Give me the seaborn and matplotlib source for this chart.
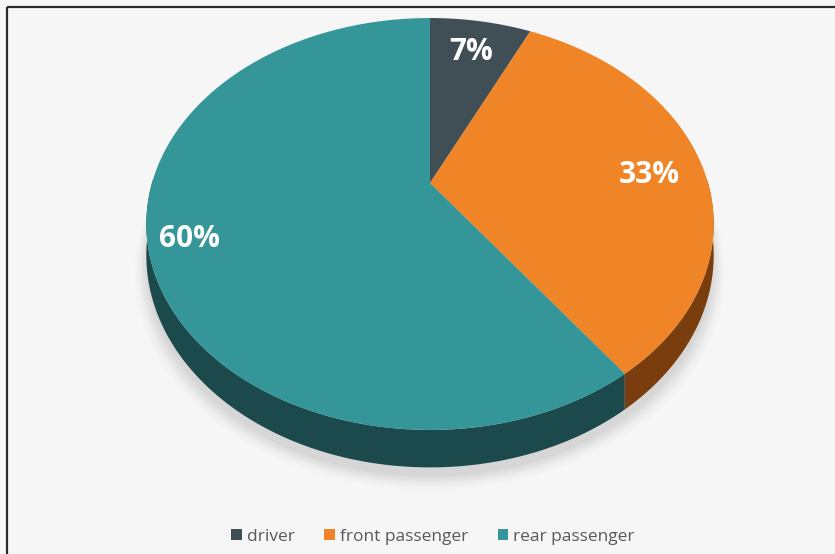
import numpy as np
import matplotlib
matplotlib.use("Agg")
import matplotlib.pyplot as plt
from matplotlib.patches import Patch
import seaborn as sns

categories = ["driver", "front passenger", "rear passenger"]
shares = [7, 33, 60]
labels = ["7%", "33%", "60%"]
top_colors = ["#3f4f55", "#ef8527", "#359699"]
side_colors = ["#26323a", "#7a3d0e", "#1c4a4c"]

sns.set_theme(style="white")
plt.rcParams["font.family"] = ["Open Sans", "DejaVu Sans"]

W, H = 835, 554
fig = plt.figure(figsize=(W / 100, H / 100), dpi=100)
fig.patch.set_facecolor("#f6f6f6")
ax = fig.add_axes([0, 0, 1, 1])
ax.set_xlim(0, W)
ax.set_ylim(H, 0)
ax.axis("off")
ax.set_facecolor("#f6f6f6")

# projection of the tilted pie (perspective-like)
cx, cy = 430, 183
kx, ky, c = 278, 197.8, 0.199
depth = 30


def proj(theta, drop=0.0, r=1.0, rr=1.0):
    u, v = r * np.cos(theta), rr * r * np.sin(theta)
    s = 1.0 / (1 + c * v)
    return cx + kx * u * s, cy - ky * v * s + drop * s


# soft shadow
for i, a in enumerate(np.linspace(0.05, 0.012, 8)):
    t = np.linspace(0, 2 * np.pi, 300)
    x, y = proj(t, depth + 6 + i * 1.5)
    x = cx + (x - cx) * (1.0 + i * 0.006)
    ax.fill(x, y + 2, color="#7a7a7a", alpha=a, lw=0, zorder=1)

fractions = np.array(shares, dtype=float) / np.sum(shares)
start = np.pi / 2
bounds = []
for f in fractions:
    end = start - f * 2 * np.pi
    bounds.append((start, end))
    start = end

# sides (visible front part)
for (a0, a1), col in zip(bounds, side_colors):
    t = np.linspace(a0, a1, 200)
    mask = np.sin(t) <= 0.02
    if mask.sum() < 2:
        continue
    tt = t[mask]
    xt, yt = proj(tt)
    xb, yb = proj(tt, depth)
    ax.fill(np.r_[xt, xb[::-1]], np.r_[yt, yb[::-1]], color=col, lw=0, zorder=2)

# top faces
for (a0, a1), col in zip(bounds, top_colors):
    t = np.linspace(a0, a1, 200)
    x, y = proj(t)
    ax.fill(np.r_[cx, x], np.r_[cy, y], color=col, lw=0, zorder=3)

# labels
label_pos = [(0.78, 1.0), (0.80, 0.53), (0.86, 1.0)]
for (a0, a1), lab, (r, rr) in zip(bounds, labels, label_pos):
    mid = (a0 + a1) / 2
    lx, ly = proj(mid, 0.0, r, rr)
    ax.text(lx, ly, lab, color="white", fontsize=21.5, fontweight="bold",
            ha="center", va="center", zorder=5)

# frame lines (top and left)
ax.plot([7, W], [7, 7], color="#2b2b2b", lw=1.6, zorder=6, solid_capstyle="butt")
ax.plot([7, 7], [7, H], color="#2b2b2b", lw=1.6, zorder=6, solid_capstyle="butt")

handles = [Patch(facecolor=col, edgecolor="none", label=cat)
           for cat, col in zip(categories, top_colors)]
fig.legend(handles=handles, loc="center", bbox_to_anchor=(433 / W, 1 - 537 / H),
           ncol=3, frameon=False, fontsize=12.5, handlelength=0.6, handleheight=0.6,
           handletextpad=0.3, columnspacing=1.7, labelcolor="#595959")

fig.savefig("out.png", dpi=100, facecolor=fig.get_facecolor())
